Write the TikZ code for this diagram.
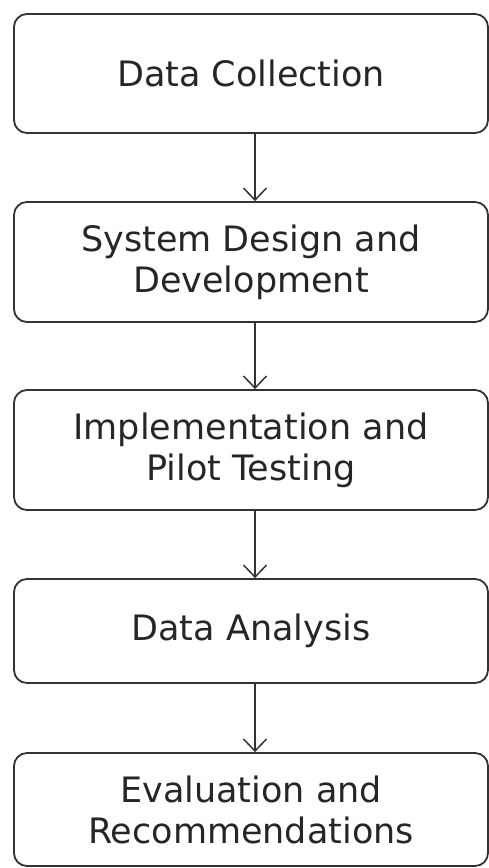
\documentclass[tikz,border=0pt]{standalone}
\usepackage{fontspec}
\setmainfont{DejaVu Sans}
\usetikzlibrary{arrows.meta}

\begin{document}
\begin{tikzpicture}[x=1pt,y=-1pt,
		stage/.style={draw=black!80, line width=1.8pt, rounded corners=13pt, minimum width=474pt, inner sep=0pt, align=center, text=black!85, font=\fontsize{35}{41}\selectfont},
		flow/.style={draw=black!80, line width=1.5pt, -{Straight Barb[length=12pt,width=23pt]}}]
	\useasboundingbox (0,0) rectangle (489,868);
	% Stages
	\node[stage, minimum height=119pt] (collect) at (251,73.5) {Data Collection};
	\node[stage, minimum height=120pt] (design) at (251,262) {System Design and\\Development};
	\node[stage, minimum height=120pt] (pilot) at (251,450) {Implementation and\\Pilot Testing};
	\node[stage, minimum height=104pt] (analysis) at (251,631) {Data Analysis};
	\node[stage, minimum height=113pt] (evaluation) at (251,809.5) {Evaluation and\\Recommendations};
	% Arrows between stages
	\foreach \a/\b in {collect/design, design/pilot, pilot/analysis, analysis/evaluation}
		{\draw[flow] ([xshift=4pt]\a.south) -- ([xshift=4pt]\b.north);}
\end{tikzpicture}
\end{document}
